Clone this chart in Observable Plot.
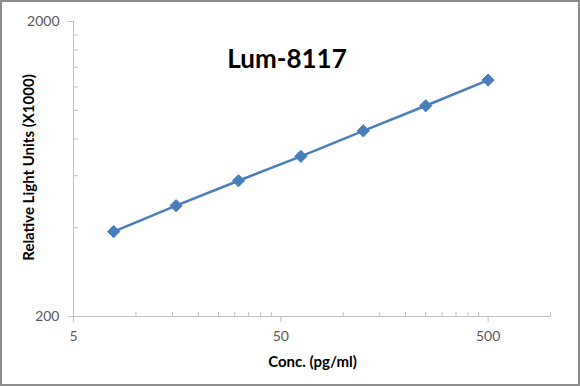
<!DOCTYPE html>
<html>
<head>
<meta charset="utf-8">
<script src="https://cdn.jsdelivr.net/npm/d3@7"></script>
<script src="https://cdn.jsdelivr.net/npm/@observablehq/plot@0.6"></script>
<style>
  html, body { margin: 0; padding: 0; background: #fff; }
  #chart svg { display: block; outline: 2px solid #8c8c8c; outline-offset: -2px; }
</style>
</head>
<body>
<div id="chart"></div>
<script>
const title = "Lum-8117";
const xLabel = "Conc. (pg/ml)";
const yLabel = "Relative Light Units (X1000)";
const conc = [7.8125, 15.625, 31.25, 62.5, 125, 250, 500];
const rlu = [388, 475, 577, 698, 852, 1036, 1266];
const xMajor = [5, 50, 500];
const xMinor = [10, 15, 20, 25, 30, 35, 40, 45, 100, 150, 200, 250, 300, 350, 400, 450, 1000];
const yMajor = [200, 2000];
const yMinor = [400, 600, 800, 1000, 1200, 1400, 1600, 1800];

const data = conc.map((c, i) => ({conc: c, rlu: rlu[i]}));
const axisColor = "#bfbfbf";
const labelColor = "#595959";
const font = "Lato, 'Open Sans', sans-serif";
const tickShape = {draw(context, l) { context.moveTo(0, 0); context.lineTo(0, -l); }};

const chart = Plot.plot({
  width: 580,
  height: 386,
  marginLeft: 73,
  marginRight: 30,
  marginTop: 21,
  marginBottom: 70,
  style: {fontFamily: font, background: "#fff"},
  x: {type: "log", domain: [5, 1000], axis: null},
  y: {type: "log", domain: [200, 2000], axis: null},
  marks: [
    Plot.ruleY([200], {stroke: axisColor}),
    Plot.ruleX([5], {stroke: axisColor}),
    // x ticks
    Plot.vector(xMajor, {x: d => d, frameAnchor: "bottom", anchor: "start", rotate: 180, length: 5, shape: tickShape, stroke: axisColor, strokeWidth: 1}),
    Plot.vector(xMinor, {x: d => d, frameAnchor: "bottom", anchor: "start", rotate: 0, length: 4, shape: tickShape, stroke: axisColor, strokeWidth: 1}),
    Plot.text(xMajor, {x: d => d, frameAnchor: "bottom", lineAnchor: "top", dy: 15, text: d => String(d), fontSize: 14, fill: labelColor, fontFamily: font}),
    // y ticks
    Plot.vector(yMajor, {y: d => d, frameAnchor: "left", anchor: "start", rotate: -90, length: 5, shape: tickShape, stroke: axisColor, strokeWidth: 1}),
    Plot.vector(yMinor, {y: d => d, frameAnchor: "left", anchor: "start", rotate: 90, length: 4, shape: tickShape, stroke: axisColor, strokeWidth: 1}),
    Plot.text(yMajor, {y: d => d, frameAnchor: "left", textAnchor: "end", dx: -14, text: d => String(d), fontSize: 14, fill: labelColor, fontFamily: font}),
    // data
    Plot.line(data, {x: "conc", y: "rlu", stroke: "#4a7ebb", strokeWidth: 2.5}),
    Plot.dot(data, {x: "conc", y: "rlu", symbol: "diamond2", r: 5.5, fill: "#4a7ebb", stroke: "#4a7ebb", strokeWidth: 1}),
    // titles
    Plot.text([title], {frameAnchor: "top", dx: -25, dy: 28, text: d => d, fontSize: 26, fontWeight: "bold", fill: "#000", fontFamily: font}),
    Plot.text([xLabel], {frameAnchor: "bottom", dx: 0.5, dy: 50, text: d => d, fontSize: 15, fontWeight: "bold", fill: "#000", fontFamily: font}),
    Plot.text([yLabel], {frameAnchor: "left", textAnchor: "middle", dx: -44, dy: -1.5, rotate: -90, text: d => d, fontSize: 15, fontWeight: "bold", fill: "#000", fontFamily: font})
  ]
});
document.getElementById("chart").append(chart);
</script>
</body>
</html>
